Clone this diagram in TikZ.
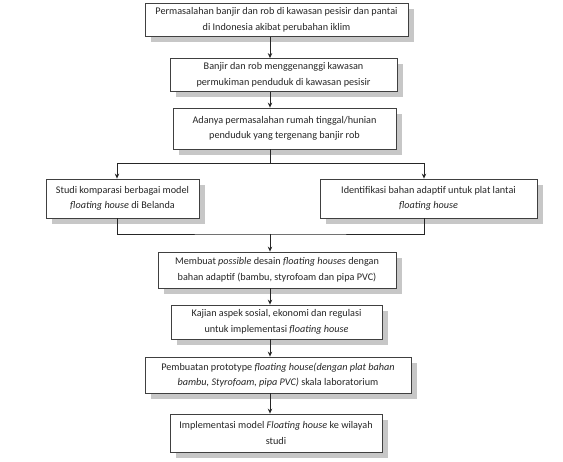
\documentclass[tikz,border=0pt]{standalone}
\usepackage{fontspec}
\setmainfont{Carlito}
\usetikzlibrary{arrows.meta,shadows}

\begin{document}
\begin{tikzpicture}[x=1pt, y=-1pt, >={Stealth[length=5pt,width=4.5pt]},
  box/.style={draw=black!75, fill=white, line width=0.8pt, align=center, inner sep=0pt,
    font=\fontsize{10.2}{15.5}\selectfont, text=black!85,
    drop shadow={shadow xshift=6pt, shadow yshift=-6pt, fill=black!22, opacity=1}},
  link/.style={line width=0.8pt, black!85}]
  \useasboundingbox (0,0) rectangle (563,462);

  % sumbu alur
  \coordinate (axis) at (270,0);
  \coordinate (lx) at (117,0);
  \coordinate (rx) at (424,0);
  \coordinate (split) at (270,163);
  \coordinate (join) at (270,234);

  % kotak atas
  \node[box, minimum width=263pt, minimum height=33pt] (masalah) at (276.5,20)
    {Permasalahan banjir dan rob di kawasan pesisir dan pantai\\di Indonesia akibat perubahan iklim};
  \node[box, minimum width=227pt, minimum height=33pt] (genang) at (283.5,75)
    {Banjir dan rob menggenanggi kawasan\\permukiman penduduk di kawasan pesisir};
  \node[box, minimum width=223pt, minimum height=41pt] (hunian) at (284.5,128.5)
    {Adanya permasalahan rumah tinggal/hunian\\penduduk yang tergenang banjir rob};

  % dua cabang
  \node[box, minimum width=153pt, minimum height=39pt] (studi) at (122.5,198.5)
    {Studi komparasi berbagai model\\\textit{floating house} di Belanda};
  \node[box, minimum width=217pt, minimum height=39pt] (bahan) at (428.5,198.5)
    {Identifikasi bahan adaptif untuk plat lantai\\\textit{floating house}};

  % kotak bawah
  \node[box, minimum width=238pt, minimum height=36pt] (desain) at (277,270)
    {Membuat \textit{possible} desain \textit{floating houses} dengan\\bahan adaptif (bambu, styrofoam dan pipa PVC)};
  \node[box, minimum width=211pt, minimum height=34pt] (kajian) at (276.5,322)
    {Kajian aspek sosial, ekonomi dan regulasi\\untuk implementasi \textit{floating house}};
  \node[box, minimum width=266pt, minimum height=36pt] (proto) at (278,375)
    {Pembuatan prototype \textit{floating house(dengan plat bahan}\\\textit{bambu, Styrofoam, pipa PVC)} skala laboratorium};
  \node[box, minimum width=212pt, minimum height=38pt] (implem) at (276,433)
    {Implementasi model \textit{Floating house} ke wilayah\\studi};

  % panah
  \draw[link, ->] (masalah.south -| axis) -- (genang.north -| axis);
  \draw[link, ->] (genang.south -| axis) -- (hunian.north -| axis);
  \draw[link] (hunian.south -| axis) -- (split);
  \draw[link, ->] (split) -| (studi.north -| lx);
  \draw[link, ->] (split) -| (bahan.north -| rx);
  \draw[link] (studi.south -| lx) |- (join) -| (bahan.south -| rx);
  \draw[link, ->] (join) -- (desain.north -| axis);
  \draw[link, ->] (desain.south -| axis) -- (kajian.north -| axis);
  \draw[link, ->] (kajian.south -| axis) -- (proto.north -| axis);
  \draw[link, ->] (proto.south -| axis) -- (implem.north -| axis);
\end{tikzpicture}
\end{document}
